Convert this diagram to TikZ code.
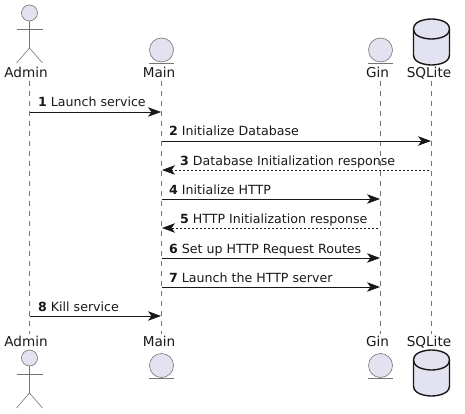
\documentclass[tikz,border=0pt]{standalone}
\usepackage{fontspec}
\setmainfont{DejaVu Sans}
\usetikzlibrary{arrows.meta}
\definecolor{partfill}{HTML}{E2E2F0}
\definecolor{partline}{HTML}{181818}
\newcommand{\Actor}[2]{
  \fill[partfill] (#1,#2) circle (8);
  \draw[thin line] (#1,#2) circle (8);
  \draw[thin line] (#1,#2+8) -- (#1,#2+35);
  \draw[thin line] (#1-13,#2+16) -- (#1+13,#2+16);
  \draw[thin line] (#1-13,#2+50) -- (#1,#2+35) -- (#1+13,#2+50);
}
\newcommand{\Entity}[2]{
  \fill[partfill] (#1,#2) circle (12);
  \draw[thin line] (#1,#2) circle (12);
  \draw[thin line] (#1-12.5,#2+13) -- (#1+12.5,#2+13);
}
\newcommand{\Database}[2]{
  \draw[db line,fill=partfill] (#1,#2+10) .. controls (#1,#2) and (#1+18,#2) .. (#1+18,#2)
    .. controls (#1+18,#2) and (#1+36,#2) .. (#1+36,#2+10) -- (#1+36,#2+36)
    .. controls (#1+36,#2+46) and (#1+18,#2+46) .. (#1+18,#2+46)
    .. controls (#1+18,#2+46) and (#1,#2+46) .. (#1,#2+36) -- cycle;
  \draw[db line] (#1,#2+10) .. controls (#1,#2+20) and (#1+18,#2+20) .. (#1+18,#2+20)
    .. controls (#1+18,#2+20) and (#1+36,#2+20) .. (#1+36,#2+10);
}
\tikzset{
  thin line/.style={draw=partline!60,line width=.6pt},
  db line/.style={draw=partline,line width=1.4pt},
  part/.style={anchor=base,inner sep=0pt,text=partline,font=\fontsize{13.6}{16}\selectfont},
  msg/.style={anchor=base west,inner sep=0pt,text=partline,font=\fontsize{12.6}{15}\selectfont},
  lifeline/.style={draw=partline!60,line width=.5pt,dash pattern=on 5pt off 5pt},
  call/.style={draw=partline,line width=.8pt,-{Stealth[length=13pt,width=9.5pt,inset=3.5pt]}},
  reply/.style={call,line width=.6pt,dash pattern=on 2pt off 2pt}
}
\begin{document}
\begin{tikzpicture}[x=1pt,y=-1pt]
\useasboundingbox (0,0) rectangle (465,414);

% lifelines
\coordinate (adminTop) at (29.5,81);
\coordinate (adminEnd) at (29.5,334);
\coordinate (mainTop) at (161.5,81);
\coordinate (mainEnd) at (161.5,334);
\coordinate (ginTop) at (380.5,81);
\coordinate (ginEnd) at (380.5,334);
\coordinate (dbTop) at (431.5,81);
\coordinate (dbEnd) at (431.5,334);
\draw[lifeline] (adminTop) -- (adminEnd);
\draw[lifeline] (mainTop) -- (mainEnd);
\draw[lifeline] (ginTop) -- (ginEnd);
\draw[lifeline] (dbTop) -- (dbEnd);

% participants
\Actor{29.5}{13}
\Entity{161.5}{50}
\Entity{380.5}{50}
\Database{413.5}{19}
\node[part] (adminHead) at (26,78) {Admin};
\node[part] (mainHead) at (159,78) {Main};
\node[part] (ginHead) at (377.5,78) {Gin};
\node[part] (dbHead) at (429,78) {SQLite};

\Actor{29.5}{358}
\Entity{161.5}{365.5}
\Entity{380.5}{365.5}
\Database{413.5}{350}
\node[part] (adminFoot) at (26,346) {Admin};
\node[part] (mainFoot) at (159,346) {Main};
\node[part] (ginFoot) at (377.5,346) {Gin};
\node[part] (dbFoot) at (429,346) {SQLite};

% messages
\coordinate (a1) at (29.5,112);
\coordinate (m1) at (161,112);
\coordinate (m2) at (161.5,141);
\coordinate (d2) at (431,141);
\coordinate (d3) at (429,170);
\coordinate (m3) at (162,170);
\coordinate (m4) at (161.5,199);
\coordinate (g4) at (380,199);
\coordinate (g5) at (378,228);
\coordinate (m5) at (162,228);
\coordinate (m6) at (161.5,258);
\coordinate (g6) at (380,258);
\coordinate (m7) at (161.5,287);
\coordinate (g7) at (380,287);
\coordinate (a8) at (29.5,316);
\coordinate (m8) at (161,316);

\draw[call] (a1) -- (m1);
\draw[call] (m2) -- (d2);
\draw[reply] (d3) -- (m3);
\draw[call] (m4) -- (g4);
\draw[reply] (g5) -- (m5);
\draw[call] (m6) -- (g6);
\draw[call] (m7) -- (g7);
\draw[call] (a8) -- (m8);

\node[msg] (t1) at (38,107) {\textbf{1} Launch service};
\node[msg] (t2) at (169,136) {\textbf{2} Initialize Database};
\node[msg] (t3) at (180,165) {\textbf{3} Database Initialization response};
\node[msg] (t4) at (169,194) {\textbf{4} Initialize HTTP};
\node[msg] (t5) at (180,223) {\textbf{5} HTTP Initialization response};
\node[msg] (t6) at (169,253) {\textbf{6} Set up HTTP Request Routes};
\node[msg] (t7) at (169,282) {\textbf{7} Launch the HTTP server};
\node[msg] (t8) at (38,311) {\textbf{8} Kill service};
\end{tikzpicture}
\end{document}
